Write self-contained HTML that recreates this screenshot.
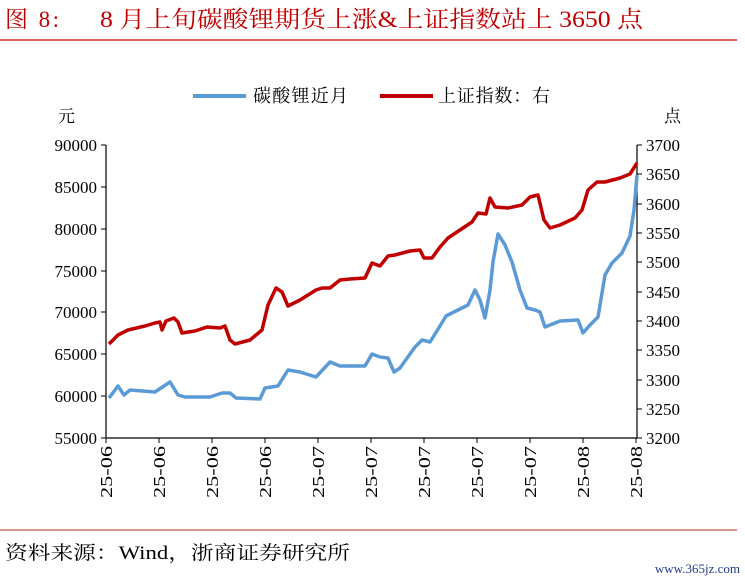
<!DOCTYPE html>
<html><head><meta charset="utf-8"><style>
body{margin:0;background:#fff;width:745px;height:582px;overflow:hidden}
text{font-family:"Liberation Serif","Noto Serif CJK SC",serif}
</style></head><body>
<svg width="745" height="582" viewBox="0 0 745 582" xmlns="http://www.w3.org/2000/svg">
<text x="5" y="27" font-size="23" fill="#c00000" textLength="54">图 8:</text>
<text x="100" y="27" font-size="23" fill="#c00000" textLength="543" lengthAdjust="spacingAndGlyphs">8 月上旬碳酸锂期货上涨&amp;上证指数站上 3650 点</text>
<line x1="0" y1="40" x2="737" y2="40" stroke="#c00000" stroke-width="1.2"/>
<line x1="0" y1="530" x2="737" y2="530" stroke="#c0504d" stroke-width="1.2"/>
<text x="5" y="559" font-size="19" fill="#000" textLength="345" lengthAdjust="spacingAndGlyphs">资料来源：Wind，浙商证券研究所</text>
<text x="740" y="573" font-size="13" fill="#1f3c88" text-anchor="end" font-family="Liberation Mono,monospace">www.365jz.com</text>
<line x1="193" y1="96" x2="246" y2="96" stroke="#5b9bd5" stroke-width="4"/>
<text x="253" y="102" font-size="18" textLength="95">碳酸锂近月</text>
<line x1="380" y1="96" x2="433" y2="96" stroke="#c00000" stroke-width="4"/>
<text x="438" y="102" font-size="18" textLength="112">上证指数：右</text>
<text x="58" y="122" font-size="17">元</text>
<text x="664" y="122" font-size="17">点</text>
<g stroke="#000" stroke-width="1.2" fill="none">
<line x1="106" y1="145" x2="106" y2="438"/>
<line x1="637" y1="145" x2="637" y2="438"/>
<line x1="106" y1="438" x2="637" y2="438"/>
</g>
<g stroke="#000" stroke-width="1">
<line x1="101" y1="145" x2="106" y2="145"/><line x1="101" y1="187" x2="106" y2="187"/><line x1="101" y1="229" x2="106" y2="229"/><line x1="101" y1="271" x2="106" y2="271"/><line x1="101" y1="312" x2="106" y2="312"/><line x1="101" y1="354" x2="106" y2="354"/><line x1="101" y1="396" x2="106" y2="396"/><line x1="101" y1="438" x2="106" y2="438"/>
<line x1="637" y1="145" x2="642" y2="145"/><line x1="637" y1="174" x2="642" y2="174"/><line x1="637" y1="204" x2="642" y2="204"/><line x1="637" y1="233" x2="642" y2="233"/><line x1="637" y1="262" x2="642" y2="262"/><line x1="637" y1="292" x2="642" y2="292"/><line x1="637" y1="321" x2="642" y2="321"/><line x1="637" y1="350" x2="642" y2="350"/><line x1="637" y1="380" x2="642" y2="380"/><line x1="637" y1="409" x2="642" y2="409"/><line x1="637" y1="438" x2="642" y2="438"/>
<line x1="106" y1="438" x2="106" y2="443"/><line x1="159" y1="438" x2="159" y2="443"/><line x1="212" y1="438" x2="212" y2="443"/><line x1="265" y1="438" x2="265" y2="443"/><line x1="318" y1="438" x2="318" y2="443"/><line x1="371" y1="438" x2="371" y2="443"/><line x1="424" y1="438" x2="424" y2="443"/><line x1="477" y1="438" x2="477" y2="443"/><line x1="530" y1="438" x2="530" y2="443"/><line x1="583" y1="438" x2="583" y2="443"/><line x1="636" y1="438" x2="636" y2="443"/>
</g>
<g font-size="17" text-anchor="end">
<text x="97" y="151">90000</text><text x="97" y="193">85000</text><text x="97" y="235">80000</text><text x="97" y="277">75000</text><text x="97" y="318">70000</text><text x="97" y="360">65000</text><text x="97" y="402">60000</text><text x="97" y="444">55000</text>
</g>
<g font-size="17">
<text x="646" y="151">3700</text><text x="646" y="180">3650</text><text x="646" y="210">3600</text><text x="646" y="239">3550</text><text x="646" y="268">3500</text><text x="646" y="298">3450</text><text x="646" y="327">3400</text><text x="646" y="356">3350</text><text x="646" y="386">3300</text><text x="646" y="415">3250</text><text x="646" y="444">3200</text>
</g>
<g font-size="17" text-anchor="end">
<text transform="translate(112,446) rotate(-90)" textLength="52" lengthAdjust="spacingAndGlyphs">25-06</text>
<text transform="translate(165,446) rotate(-90)" textLength="52" lengthAdjust="spacingAndGlyphs">25-06</text>
<text transform="translate(218,446) rotate(-90)" textLength="52" lengthAdjust="spacingAndGlyphs">25-06</text>
<text transform="translate(271,446) rotate(-90)" textLength="52" lengthAdjust="spacingAndGlyphs">25-06</text>
<text transform="translate(324,446) rotate(-90)" textLength="52" lengthAdjust="spacingAndGlyphs">25-07</text>
<text transform="translate(377,446) rotate(-90)" textLength="52" lengthAdjust="spacingAndGlyphs">25-07</text>
<text transform="translate(430,446) rotate(-90)" textLength="52" lengthAdjust="spacingAndGlyphs">25-07</text>
<text transform="translate(483,446) rotate(-90)" textLength="52" lengthAdjust="spacingAndGlyphs">25-07</text>
<text transform="translate(536,446) rotate(-90)" textLength="52" lengthAdjust="spacingAndGlyphs">25-07</text>
<text transform="translate(589,446) rotate(-90)" textLength="52" lengthAdjust="spacingAndGlyphs">25-08</text>
<text transform="translate(642,446) rotate(-90)" textLength="52" lengthAdjust="spacingAndGlyphs">25-08</text>
</g>
<polyline fill="none" stroke="#5b9bd5" stroke-width="3.5" stroke-linejoin="round" points="109,398 118,386 124,395 130,390 155,392 170,382 178,395 185,397 210,397 222,393 230,393 236,398 260,399 265,388 278,386 288,370 300,372 316,377 330,362 340,366 365,366 372,354 380,357 388,358 394,372 400,368 415,347 422,340 430,342 440,326 446,316 460,309 468,305 475,290 480,300 485,318 490,290 493,262 498,234 505,245 512,262 520,290 527,308 535,310 540,312 545,327 550,325 560,321 578,320 583,333 590,325 598,317 605,275 612,263 622,253 630,236 634,210 637,175"/>
<polyline fill="none" stroke="#c00000" stroke-width="3.5" stroke-linejoin="round" points="109,344 118,335 128,330 145,326 155,323 160,322 162,330 166,321 174,318 178,322 182,333 195,331 207,327 220,328 225,326 230,340 235,344 250,340 262,330 268,305 276,288 282,292 288,306 300,300 316,290 322,288 330,288 340,280 350,279 365,278 372,263 380,266 388,256 395,255 410,251 420,250 424,258 432,258 440,247 448,238 460,230 472,222 478,213 486,214 490,198 495,207 508,208 522,205 530,197 538,195 544,220 550,228 560,225 575,218 582,210 588,190 597,182 605,182 620,178 630,174 637,163"/>
</svg>
</body></html>
